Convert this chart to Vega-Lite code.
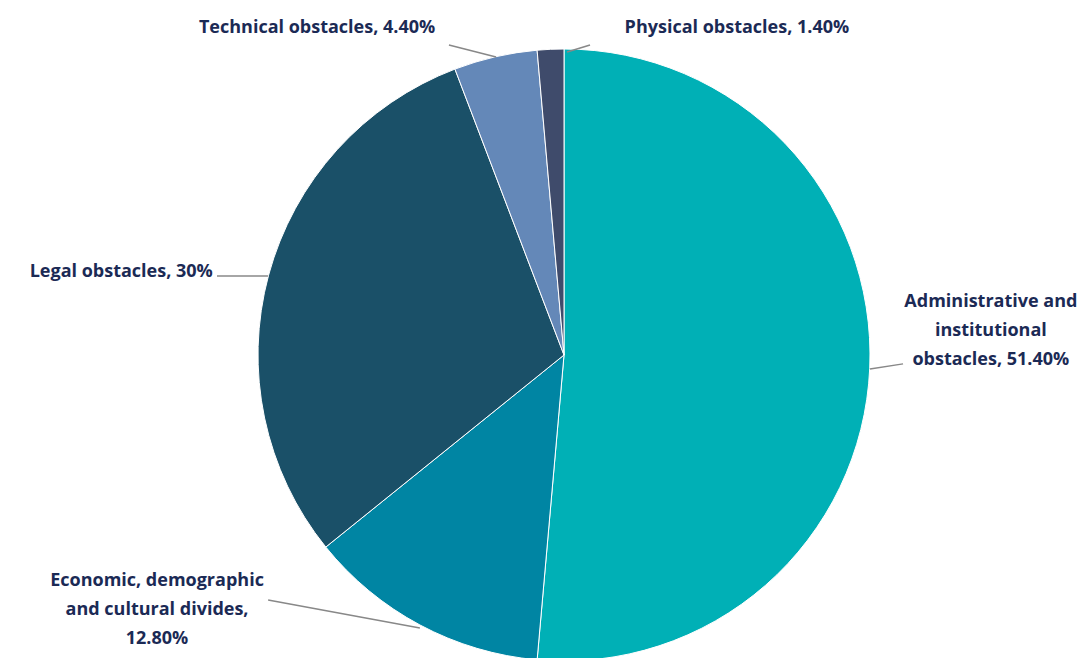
{
  "$schema": "https://vega.github.io/schema/vega-lite/v6.json",
  "autosize": {"type": "none"},
  "padding": {"left": 41, "top": 52, "right": 0, "bottom": 0},
  "width": 1046,
  "height": 606,
  "background": "#ffffff",
  "config": {"view": {"stroke": null}},
  "data": {
    "values": [
      {"category": "Administrative and institutional obstacles", "value": 51.4, "label": "Administrative and\ninstitutional\nobstacles, 51.40%", "lx": 1.395, "ly": 0.173, "ax": 1.108, "ay": -0.029, "bx": 1.0, "by": -0.046},
      {"category": "Economic, demographic and cultural divides", "value": 12.8, "label": "Economic, demographic\nand cultural divides,\n12.80%", "lx": -1.33, "ly": -0.739, "ax": -0.967, "ay": -0.801, "bx": -0.471, "by": -0.892},
      {"category": "Legal obstacles", "value": 30, "label": "Legal obstacles, 30%", "lx": -1.447, "ly": 0.271, "ax": -1.134, "ay": 0.258, "bx": -0.967, "by": 0.258},
      {"category": "Technical obstacles", "value": 4.4, "label": "Technical obstacles, 4.40%", "lx": -0.807, "ly": 1.068, "ax": -0.376, "ay": 1.013, "bx": -0.222, "by": 0.974},
      {"category": "Physical obstacles", "value": 1.4, "label": "Physical obstacles, 1.40%", "lx": 0.565, "ly": 1.068, "ax": 0.085, "ay": 1.013, "bx": 0.01, "by": 0.99}
    ]
  },
  "transform": [{"window": [{"op": "row_number", "as": "idx"}]}],
  "layer": [
    {
      "mark": {"type": "arc", "outerRadius": 306, "stroke": "#ffffff", "strokeWidth": 1},
      "encoding": {
        "theta": {"field": "value", "type": "quantitative", "stack": true},
        "order": {"field": "idx", "type": "quantitative"},
        "color": {
          "field": "category",
          "type": "nominal",
          "legend": null,
          "scale": {
            "domain": ["Administrative and institutional obstacles", "Economic, demographic and cultural divides", "Legal obstacles", "Technical obstacles", "Physical obstacles"],
            "range": ["#00b0b6", "#0085a3", "#1a5068", "#6488b8", "#3f4b6b"]
          }
        }
      }
    },
    {
      "mark": {"type": "rule", "color": "#888888", "strokeWidth": 1.5},
      "encoding": {
        "x": {"field": "ax", "type": "quantitative", "axis": null, "scale": {"domain": [-1.7092, 1.7092], "nice": false, "zero": false}},
        "y": {"field": "ay", "type": "quantitative", "axis": null, "scale": {"domain": [-0.9902, 0.9902], "nice": false, "zero": false}},
        "x2": {"field": "bx"},
        "y2": {"field": "by"}
      }
    },
    {
      "mark": {"type": "text", "font": "Open Sans", "fontWeight": "bold", "fontSize": 18, "letterSpacing": 0.4, "color": "#1b2a55", "align": "center", "baseline": "middle", "lineBreak": "\n", "lineHeight": 29},
      "encoding": {
        "x": {"field": "lx", "type": "quantitative"},
        "y": {"field": "ly", "type": "quantitative"},
        "text": {"field": "label", "type": "nominal"}
      }
    }
  ]
}
